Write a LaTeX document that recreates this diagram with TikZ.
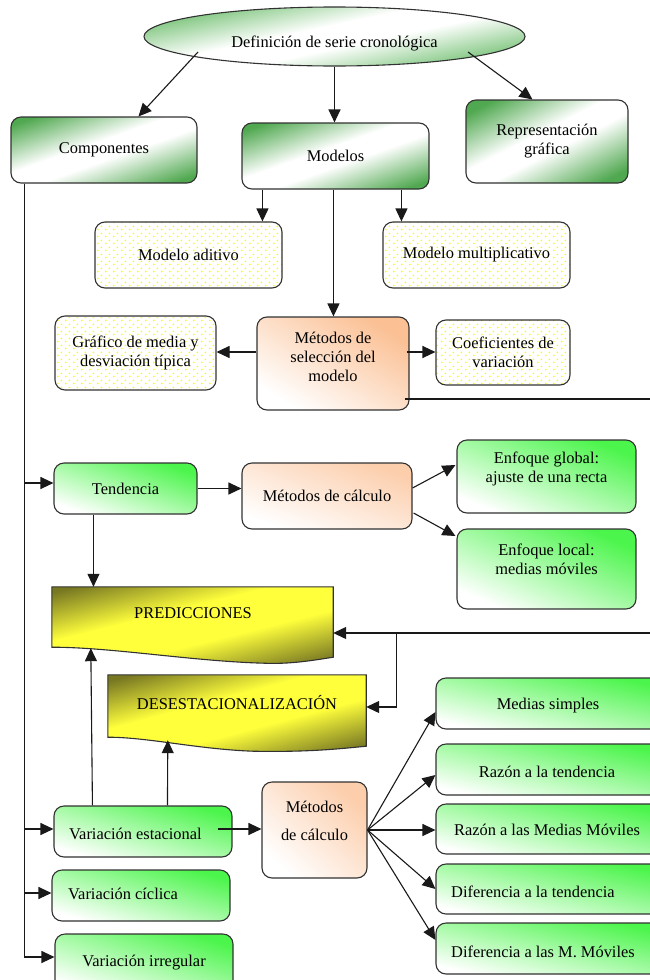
\documentclass[tikz,border=0pt]{standalone}
\usepackage{fontspec}
\setmainfont{Liberation Serif}
\usetikzlibrary{arrows.meta,calc,shapes.geometric,patterns.meta}
\definecolor{bordc}{RGB}{50,50,50}
\definecolor{linec}{RGB}{25,25,25}
\definecolor{dg}{RGB}{80,168,80}
\definecolor{eg}{RGB}{110,190,110}
\definecolor{lg}{RGB}{75,245,75}
\definecolor{og}{RGB}{251,192,148}
\definecolor{og2}{RGB}{252,206,172}
\definecolor{ol}{RGB}{120,120,35}
\definecolor{yl}{RGB}{255,255,60}
\definecolor{dotc}{RGB}{255,250,0}
\pgfdeclareverticalshading{gsh}{100bp}{color(0bp)=(dg); color(22bp)=(dg); color(45bp)=(white); color(55bp)=(white); color(78bp)=(dg); color(100bp)=(dg)}
\pgfdeclareverticalshading{esh}{100bp}{color(0bp)=(eg); color(25bp)=(eg); color(45bp)=(white); color(55bp)=(white); color(75bp)=(eg); color(100bp)=(eg)}
\pgfdeclareverticalshading{ysh}{100bp}{color(0bp)=(ol); color(22bp)=(ol); color(42bp)=(yl); color(58bp)=(yl); color(78bp)=(ol); color(100bp)=(ol)}
\tikzdeclarepattern{
  name=ydots,
  type=uncolored,
  bounding box={(0pt,0pt) and (8pt,7pt)},
  tile size={(8pt,7pt)},
  code={
    \fill (2pt,1.75pt) circle (1.05pt);
    \fill (6pt,5.25pt) circle (1.05pt);
  }
}
\newcommand\mkbox[7]{\pgfmathsetmacro\bxang{atan(((#6)-(#4))/((#5)-(#3)))}%
  \node[#2,minimum width={((#5)-(#3))*1pt},minimum height={((#6)-(#4))*1pt}] (#1) at ({((#3)+(#5))/2},{((#4)+(#6))/2}) {#7};}
\tikzset{
  every node/.style={font=\fontsize{16.4}{19}\selectfont},
  bx/.style={draw=bordc, line width=1.1pt, rounded corners=10pt, inner sep=0pt, align=center},
  gbox/.style={bx, shading=gsh, shading angle=\bxang},
  lbox/.style={bx, top color=lg, bottom color=white, shading angle=-\bxang},
  obox/.style={bx, top color=og, bottom color=white, shading angle=-\bxang},
  obox2/.style={bx, top color=og2, bottom color=white, shading angle=-\bxang},
  dbox/.style={bx, pattern=ydots, pattern color=dotc},
  ghost/.style={inner sep=0pt},
  txt/.style={inner sep=0pt, align=center},
  arr/.style={draw=linec, line width=1.1pt, -{Triangle[length=13pt,width=12pt]}},
  docshade/.style={draw=bordc, line width=1.1pt, shading=ysh, shading angle=#1}
}
\begin{document}
\begin{tikzpicture}[x=1pt,y=-1pt]
\useasboundingbox (0,0) rectangle (650,980);
% ellipse
\node[draw=bordc, line width=1.1pt, ellipse, minimum width=381pt, minimum height=59pt, inner sep=0pt,
      shading=esh, shading angle=12] (ell) at (334.5,36.5) {};
\node[txt] (ell-t) at (334.5,43) {Definición de serie cronológica};
% top boxes
\mkbox{comp}{gbox}{11}{117}{197}{183}{Componentes}
\mkbox{mod}{gbox}{242}{123}{429}{189}{Modelos}
\mkbox{rep}{gbox}{466}{100}{628}{183}{Representación\\gráfica}
\mkbox{ad}{dbox}{95}{222}{282}{288}{Modelo aditivo}
\mkbox{mul}{dbox}{383}{222}{570}{288}{Modelo multiplicativo}
\mkbox{graf}{dbox}{55}{316}{216}{390}{Gráfico de media y\\desviación típica}
\mkbox{msel}{obox}{257}{317}{409}{410}{}
\node[txt] (msel-t) at (333,357) {Métodos de\\selección del\\modelo};
\mkbox{coef}{dbox}{436}{320}{570}{385}{Coeficientes de\\variación}
% tendencia
\mkbox{tend}{lbox}{54}{463}{197}{514}{Tendencia}
\mkbox{mcal1}{obox2}{242}{463}{412}{529}{Métodos de cálculo}
\mkbox{eg}{lbox}{457}{440}{636}{513}{}
\node[txt] (eg-t) at (546.5,469) {Enfoque global:\\ajuste de una recta};
\mkbox{el}{lbox}{457}{529}{636}{609}{}
\node[txt] (el-t) at (546.5,559) {Enfoque local:\\medias móviles};
% documents
\mkbox{pred}{ghost}{52}{587}{333}{647}{}
\mkbox{des}{ghost}{108}{675}{366}{737}{}
\draw[docshade=14] (pred.north west) -- (pred.north east) -- ($(pred.south east)+(0,10)$)
  .. controls ($(pred.south east)+(-25,14)$) and ($(pred.south east)+(-45,17)$) .. ($(pred.south west)+(212,16)$)
  .. controls ($(pred.south west)+(140,14)$) and ($(pred.south west)+(60,0)$) .. (pred.south west) -- cycle;
\draw[docshade=15] (des.north west) -- (des.north east) -- ($(des.south east)+(0,9)$)
  .. controls ($(des.south east)+(-30,12)$) and ($(des.south east)+(-60,15)$) .. ($(des.south west)+(145,14)$)
  .. controls ($(des.south west)+(90,12)$) and ($(des.south west)+(40,0)$) .. (des.south west) -- cycle;
\node[txt] (pred-t) at (193,613) {PREDICCIONES};
\node[txt] (des-t) at (237,703) {DESESTACIONALIZACIÓN};
% seasonal
\mkbox{vest}{lbox}{54}{806}{232}{857}{}
\node[txt,anchor=west] (vest-t) at (69,834.4) {Variación estacional};
\mkbox{vcic}{lbox}{52}{870}{230}{921}{}
\node[txt,anchor=west] (vcic-t) at (68,893.5) {Variación cíclica};
\mkbox{virr}{lbox}{55}{934}{233}{992}{}
\node[txt] (virr-t) at (144,963) {Variación irregular};
\mkbox{mcal2}{obox2}{262}{782}{367}{878}{}
\node[txt] (mcal2-t) at (314.5,821) {Métodos\\[9pt]de cálculo};
\mkbox{ms}{lbox}{436}{678}{660}{729}{}
\node[txt] (ms-t) at (548,706) {Medias simples};
\mkbox{rt}{lbox}{436}{744}{660}{795}{}
\node[txt] (rt-t) at (547,771.5) {Razón a la tendencia};
\mkbox{rmm}{lbox}{436}{804}{660}{854}{}
\node[txt] (rmm-t) at (547,830) {Razón a las Medias Móviles};
\mkbox{dt}{lbox}{436}{864}{660}{914}{}
\node[txt,anchor=west] (dt-t) at (451,891.5) {Diferencia a la tendencia};
\mkbox{dmm}{lbox}{436}{923}{660}{974}{}
\node[txt,anchor=west] (dmm-t) at (451,951.5) {Diferencia a las M. Móviles};
% connectors: ellipse
\draw[arr] ($(ell.center)+(-136.5,15.5)$) -- ($(comp.north west)+(128,0)$);
\draw[arr] (ell.south) -- (ell.south |- mod.north);
\draw[arr] ($(ell.center)+(133.5,15.5)$) -- ($(rep.north west)+(67,0)$);
% modelos
\draw[arr] ($(mod.south west)+(21,0)$) coordinate (a1) -- (a1 |- ad.north);
\draw[arr] ($(mod.south west)+(160,0)$) coordinate (a2) -- (a2 |- mul.north);
\draw[arr] ($(mod.south west)+(92,0)$) coordinate (a3) -- (a3 |- msel.north);
% metodos de seleccion
\draw[arr] ($(msel.west)+(0,-11.5)$) coordinate (b1) -- (b1 -| graf.east);
\draw[arr] ($(msel.east)+(-3,-11.5)$) coordinate (b2) -- (b2 -| coef.west);
\coordinate (r1) at (654,399);
\coordinate (r2) at (654,633);
\draw[arr] ($(msel.east)+(-5,35.5)$) coordinate (b3) -- (b3 -| r1) -- (r2) -- (r2 -| pred.east);
\draw[arr] ($(pred.east)+(63,16)$) |- ($(des.east)+(0,1)$);
% componentes line
\draw[arr] ($(comp.south west)+(14,0)$) |- ($(tend.west)+(0,-5.5)$);
\draw[arr] ($(comp.south west)+(14,0)$) |- ($(vest.west)+(0,-2.5)$);
\draw[arr] ($(comp.south west)+(14,0)$) |- ($(vcic.west)+(0,-2.5)$);
\draw[arr] ($(comp.south west)+(14,0)$) |- ($(virr.west)+(0,-6)$);
% tendencia
\draw[arr] (tend.east) -- (tend.east -| mcal1.west);
\draw[arr] ($(tend.south west)+(40,0)$) coordinate (c1) -- (c1 |- pred.north);
\draw[arr] ($(mcal1.east)+(0,-8)$) -- ($(eg.west)+(-1,-11.5)$);
\draw[arr] ($(mcal1.east)+(1,17)$) -- ($(el.west)+(-1,-33)$);
% variacion estacional
\draw[arr] ($(vest.north west)+(39,0)$) -- ($(pred.south west)+(39,1)$);
\draw[arr] ($(vest.north west)+(114,0)$) -- ($(des.south west)+(60,3)$);
\draw[arr] ($(vest.east)+(-15,-2.5)$) coordinate (d1) -- (d1 -| mcal2.west);
% fan
\draw[arr] (mcal2.east) -- ($(ms.west)+(0,8.5)$);
\draw[arr] (mcal2.east) -- ($(rt.west)+(0,5.5)$);
\draw[arr] (mcal2.east) -- (mcal2.east -| rmm.west);
\draw[arr] (mcal2.east) -- (dt.west);
\draw[arr] (mcal2.east) -- ($(dmm.west)+(0,-8.5)$);
\end{tikzpicture}
\end{document}
